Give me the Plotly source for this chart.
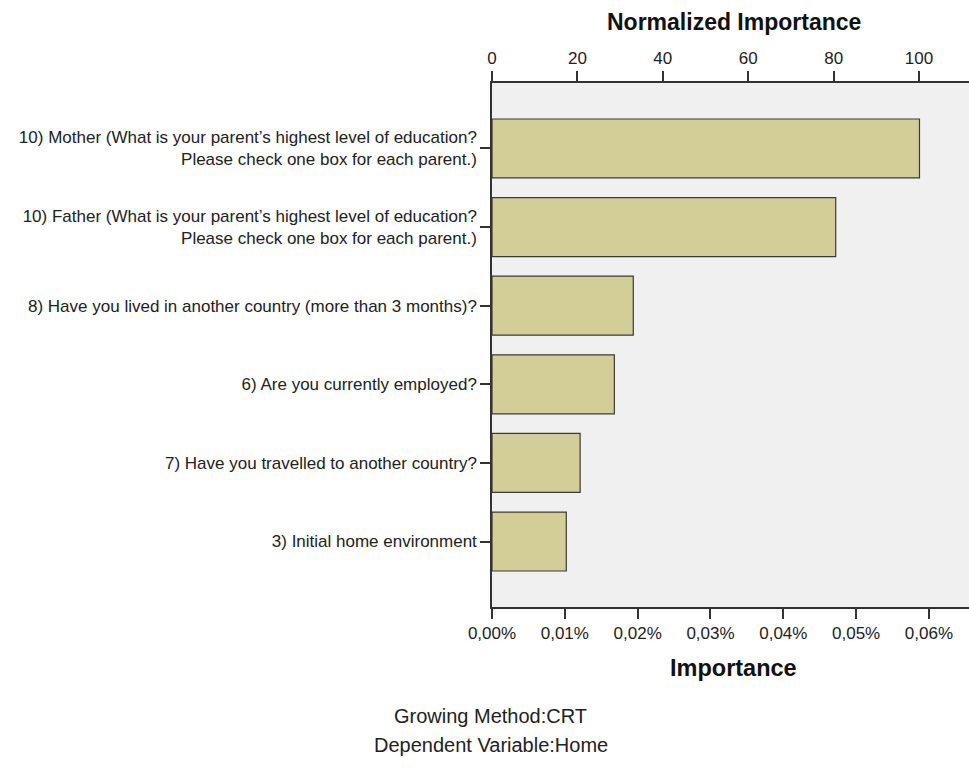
import plotly.graph_objects as go

categories = [
    "10) Mother (What is your parent\u2019s highest level of education?<br>Please check one box for each parent.)",
    "10) Father (What is your parent\u2019s highest level of education?<br>Please check one box for each parent.)",
    "8) Have you lived in another country (more than 3 months)?",
    "6) Are you currently employed?",
    "7) Have you travelled to another country?",
    "3) Initial home environment",
]
importance = [0.0587, 0.0472, 0.0194, 0.0168, 0.0121, 0.0102]
normalized = [100, 80.5, 33.1, 28.6, 20.6, 17.3]

bottom_tickvals = [0, 0.01, 0.02, 0.03, 0.04, 0.05, 0.06]
bottom_ticktext = ["0,00%", "0,01%", "0,02%", "0,03%", "0,04%", "0,05%", "0,06%"]
top_tickvals = [0, 20, 40, 60, 80, 100]

FONT = "Liberation Sans, Arial, sans-serif"
AX = "#333333"
TXT = "#222222"

W, H = 969, 769
L, R, T, B = 492, 0, 83, 162
PW, PH = W - L - R, H - T - B


def px(x):
    return (x - L) / PW


def py(y):
    return (H - B - y) / PH


fig = go.Figure()
fig.add_trace(go.Bar(
    x=importance, y=categories, orientation="h",
    marker=dict(color="#d3ce98", line=dict(color="#3a3a3a", width=1.2)),
    width=0.75, xaxis="x", yaxis="y", hoverinfo="x+y",
))
fig.add_trace(go.Scatter(
    x=normalized, y=categories, mode="markers",
    marker=dict(opacity=0, size=1), xaxis="x2", yaxis="y",
    hoverinfo="skip", showlegend=False,
))

fig.update_layout(
    width=W, height=H,
    margin=dict(l=L, r=R, t=T, b=B, pad=0),
    paper_bgcolor="white", plot_bgcolor="#f0f0f0",
    showlegend=False,
    font=dict(family=FONT, size=17, color=TXT),
    xaxis=dict(
        range=[0, 0.0655], tickvals=bottom_tickvals, ticktext=bottom_ticktext,
        showgrid=False, zeroline=False, showline=True, linecolor=AX, linewidth=1.5,
        ticks="outside", ticklen=10, tickcolor=AX, tickwidth=1.5,
        tickfont=dict(size=17, color=TXT),
    ),
    xaxis2=dict(
        range=[0, 111.7], tickvals=top_tickvals, overlaying="x", side="top",
        showgrid=False, zeroline=False, showline=True, linecolor=AX, linewidth=1.5,
        ticks="outside", ticklen=10, tickcolor=AX, tickwidth=1.5,
        tickfont=dict(size=17, color=TXT),
    ),
    yaxis=dict(
        categoryorder="array", categoryarray=categories,
        range=[5.833, -0.833],
        showgrid=False, zeroline=False, showline=True, linecolor=AX, linewidth=1.5,
        ticks="outside", ticklen=10, tickcolor=AX, tickwidth=1.5,
        tickfont=dict(size=17, color=TXT),
    ),
    annotations=[
        dict(text="<b>Normalized Importance</b>", x=px(734), y=py(22),
             font=dict(size=23, color="#111111")),
        dict(text="<b>Importance</b>", x=px(733), y=py(668),
             font=dict(size=23.5, color="#111111")),
        dict(text="Growing Method:CRT", x=px(490), y=py(716),
             font=dict(size=20, color=TXT)),
        dict(text="Dependent Variable:Home", x=px(491), y=py(745),
             font=dict(size=20, color=TXT)),
    ],
)
fig.update_annotations(xref="paper", yref="paper", showarrow=False,
                       xanchor="center", yanchor="middle")

fig.write_html("out.html", config={"displayModeBar": False},
               post_script="document.body.style.margin='0';")
